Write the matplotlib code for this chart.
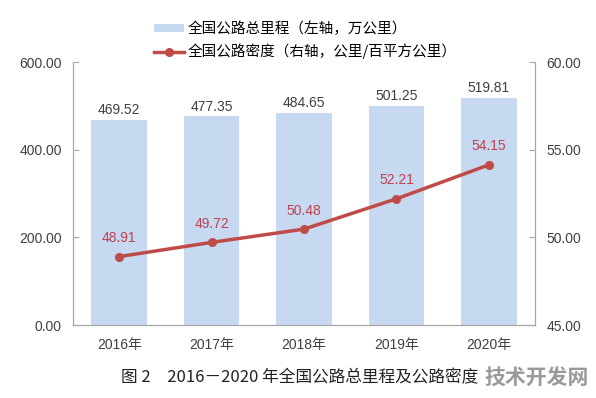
import matplotlib.pyplot as plt

plt.rcParams['font.family'] = ['Liberation Sans', 'Noto Sans CJK SC', 'DejaVu Sans']

years = ['2016年', '2017年', '2018年', '2019年', '2020年']
mileage = [469.52, 477.35, 484.65, 501.25, 519.81]
density = [48.91, 49.72, 50.48, 52.21, 54.15]

bar_color = '#C6D9F0'
line_color = '#BE4B48'
axis_color = '#A6A6A6'
text_color = '#404040'

fig = plt.figure(figsize=(5.96, 3.98), dpi=100)
ax = fig.add_axes([0.1225, 0.1834, 0.7752, 0.6596])
ax2 = ax.twinx()

x = list(range(len(years)))
bars = ax.bar(x, mileage, width=0.6, color=bar_color, zorder=1,
              label='全国公路总里程（左轴，万公里）')
ax.set_ylim(0, 600)
ax.set_yticks([0, 200, 400, 600])
ax.set_yticklabels(['%.2f' % v for v in [0, 200, 400, 600]])
ax.set_xlim(-0.5, 4.5)
ax.set_xticks(x)
ax.set_xticklabels(years)
for xi, v in zip(x, mileage):
    ax.text(xi, v + 6, '%.2f' % v, ha='center', va='bottom', fontsize=10, color=text_color)

line, = ax2.plot(x, density, color=line_color, lw=2.5, marker='o', ms=5.5, zorder=3,
                 label='全国公路密度（右轴，公里/百平方公里）')
ax2.set_ylim(45, 60)
ax2.set_yticks([45, 50, 55, 60])
ax2.set_yticklabels(['%.2f' % v for v in [45, 50, 55, 60]])
for xi, v in zip(x, density):
    ax2.text(xi, v + 0.65, '%.2f' % v, ha='center', va='bottom', fontsize=10, color='#C0404F')

for a in (ax, ax2):
    a.spines['top'].set_visible(False)
    for s in ('left', 'right', 'bottom'):
        a.spines[s].set_color(axis_color)
    a.tick_params(axis='y', direction='in', length=4, color=axis_color, labelsize=10,
                  labelcolor=text_color, pad=8)
    a.tick_params(axis='x', length=0, labelsize=10, labelcolor=text_color, pad=9)

fig.legend([bars, line], [bars.get_label(), line.get_label()],
           loc='upper left', bbox_to_anchor=(0.237, 0.978), frameon=False,
           prop={'family': ['Noto Sans CJK SC'], 'size': 10.5},
           handlelength=2.0, handleheight=0.5, handletextpad=0.3, labelspacing=0.5)

fig.text(0.203, 0.052, '图 2　2016－2020 年全国公路总里程及公路密度',
         family=['Noto Sans CJK SC'], fontsize=12, color='#222222', va='center')
fig.text(0.988, 0.052, '技术开发网', family=['Noto Sans CJK SC'], fontsize=15,
         fontweight='bold', color='#9A9A9A', va='center', ha='right')

fig.savefig('out.png', dpi=100)
